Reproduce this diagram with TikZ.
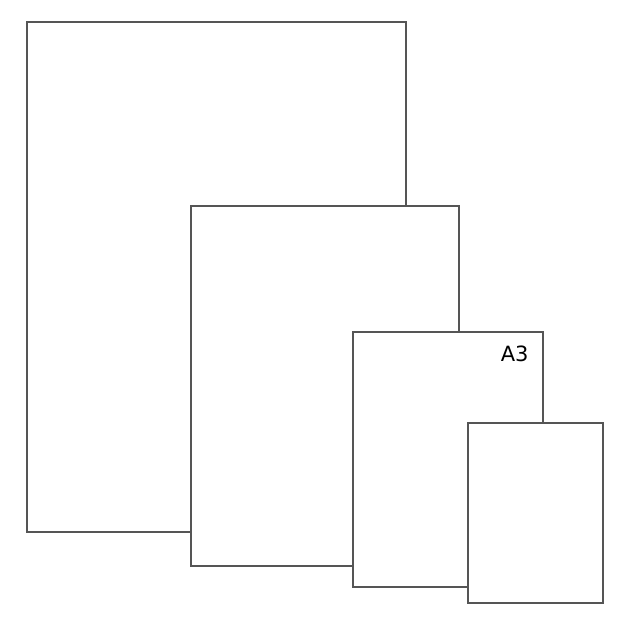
\documentclass[tikz,border=0pt]{standalone}
\usepackage{fontspec}
\setmainfont{DejaVu Sans}
\begin{document}
\begin{tikzpicture}[x=1pt,y=-1pt,
  sheet/.style={draw=edgegray, line width=2.2pt, fill=white, inner sep=0pt, anchor=north west}]
\definecolor{edgegray}{HTML}{555555}
\useasboundingbox (0,0) rectangle (625,625);
\node[sheet, minimum width=379pt, minimum height=510pt] (a0) at (26,21) {};
\node[sheet, minimum width=268pt, minimum height=360pt] (a1) at (189.5,205) {};
\node[sheet, minimum width=190pt, minimum height=255pt] (a3) at (351.5,331) {};
\node[sheet, minimum width=135pt, minimum height=180pt] (a4) at (466.5,422) {};
\node[anchor=north east, inner sep=0pt, font=\fontsize{21}{25}\selectfont] (lbl) at ([xshift=-15pt,yshift=-14.5pt]a3.north east) {A3};
\end{tikzpicture}
\end{document}
